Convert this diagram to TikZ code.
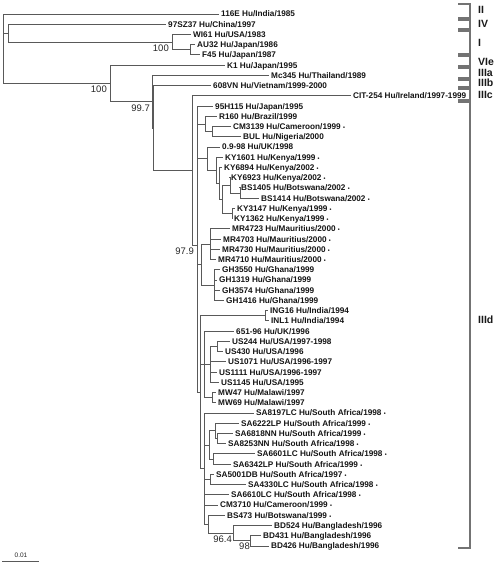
\documentclass[tikz,border=0pt]{standalone}
\usepackage{fontspec}
\setmainfont{Liberation Sans}
\usetikzlibrary{positioning}
\newcommand\dotmark{\ {\fontsize{5.5}{6}\selectfont •}}
\tikzset{
  br/.style={draw=black!65,line width=0.85pt},
  tip/.style={anchor=west,inner xsep=2pt,inner ysep=0pt,text height=5.9pt,text depth=0pt,
    font=\fontsize{8.2}{9}\selectfont\bfseries,text=black!92},
  boot/.style={inner sep=0pt,font=\fontsize{9.5}{10}\selectfont,text=black!85},
  grp/.style={draw=black!55,line width=1.1pt},
  grplab/.style={anchor=west,inner sep=0pt,font=\fontsize{10.5}{11}\selectfont\bfseries,text=black!90}
}
\begin{document}
\begin{tikzpicture}[x=1pt,y=-1pt]
\useasboundingbox (0,0) rectangle (500,562);
% tips, one row every 10.23
\foreach \px/\lab [count=\i from 0] in {
  219/{116E Hu/India/1985}, 166/{97SZ37 Hu/China/1997}, 191/{WI61 Hu/USA/1983},
  195/{AU32 Hu/Japan/1986}, 200/{F45 Hu/Japan/1987}, 225/{K1 Hu/Japan/1995},
  269/{Mc345 Hu/Thailand/1989}, 211/{608VN Hu/Vietnam/1999-2000},
  351/{CIT-254 Hu/Ireland/1997-1999}, 213/{95H115 Hu/Japan/1995},
  217/{R160 Hu/Brazil/1999}, 231/{CM3139 Hu/Cameroon/1999\dotmark},
  241/{BUL Hu/Nigeria/2000}, 220/{0.9-98 Hu/UK/1998},
  223/{KY1601 Hu/Kenya/1999\dotmark}, 222/{KY6894 Hu/Kenya/2002\dotmark},
  229/{KY6923 Hu/Kenya/2002\dotmark}, 239/{BS1405 Hu/Botswana/2002\dotmark},
  259/{BS1414 Hu/Botswana/2002\dotmark}, 235/{KY3147 Hu/Kenya/1999\dotmark},
  232/{KY1362 Hu/Kenya/1999\dotmark}, 230/{MR4723 Hu/Mauritius/2000\dotmark},
  221/{MR4703 Hu/Mauritius/2000\dotmark}, 220/{MR4730 Hu/Mauritius/2000\dotmark},
  216/{MR4710 Hu/Mauritius/2000\dotmark}, 220/{GH3550 Hu/Ghana/1999},
  217/{GH1319 Hu/Ghana/1999}, 220/{GH3574 Hu/Ghana/1999}, 224/{GH1416 Hu/Ghana/1999},
  268/{ING16 Hu/India/1994}, 269/{INL1 Hu/India/1994}, 234/{651-96 Hu/UK/1996},
  230/{US244 Hu/USA/1997-1998}, 223/{US430 Hu/USA/1996},
  226/{US1071 Hu/USA/1996-1997}, 217/{US1111 Hu/USA/1996-1997},
  219/{US1145 Hu/USA/1995}, 216/{MW47 Hu/Malawi/1997}, 216/{MW69 Hu/Malawi/1997},
  254/{SA8197LC Hu/South Africa/1998\dotmark}, 239/{SA6222LP Hu/South Africa/1999\dotmark},
  233/{SA6818NN Hu/South Africa/1999\dotmark}, 226/{SA8253NN Hu/South Africa/1998\dotmark},
  255/{SA6601LC Hu/South Africa/1998\dotmark}, 231/{SA6342LP Hu/South Africa/1999\dotmark},
  214/{SA5001DB Hu/South Africa/1997\dotmark}, 246/{SA4330LC Hu/South Africa/1998\dotmark},
  229/{SA6610LC Hu/South Africa/1998\dotmark}, 218/{CM3710 Hu/Cameroon/1999\dotmark},
  225/{BS473 Hu/Botswana/1999\dotmark}, 272/{BD524 Hu/Bangladesh/1996},
  261/{BD431 Hu/Bangladesh/1996}, 269/{BD426 Hu/Bangladesh/1996}}
  \node[tip] (t\i) at (\px,{14+10.23*\i}) {\lab};
% inner nodes
\coordinate (r0) at (3,14);
\coordinate (n2) at (8,33.18);
\coordinate (nW) at (172,42.13);
\coordinate (nAU) at (190,49.8);
\coordinate (nK) at (110,83.4);
\coordinate (n152) at (152,101.7);
\coordinate (n153) at (153,128);
\coordinate (nA) at (192,170.42);
\coordinate (n0) at (197,245);
\coordinate (nBR) at (205,123.98);
\coordinate (nCB) at (212,131.65);
\coordinate (nKE) at (207,158.66);
\coordinate (nKY) at (216,170.33);
\coordinate (nKY2) at (219,183.44);
\coordinate (nKY3) at (222,199.42);
\coordinate (nBS) at (230,185.35);
\coordinate (nBS2) at (240,193.03);
\coordinate (nKY4) at (232,213.49);
\coordinate (nMG) at (201,264.64);
\coordinate (nMR) at (210,244.18);
\coordinate (nGH) at (214,285.1);
\coordinate (nLO) at (200,392.2);
\coordinate (nIN) at (265,315.79);
\coordinate (nUSx) at (204,364.38);
\coordinate (nUS) at (210,364.38);
\coordinate (nUS2) at (217,346.48);
\coordinate (nMW) at (212,397.63);
\coordinate (nSAx) at (204,468.6);
\coordinate (nSA1) at (209,444.95);
\coordinate (nSA2) at (215,430.9);
\coordinate (nSA3) at (217,438.55);
\coordinate (nSA4) at (213,459.0);
\coordinate (nSA5) at (210,479.47);
\coordinate (nBSB) at (208,524.2);
\coordinate (nBD) at (233,533.18);
\coordinate (nBD2) at (250,540.85);
% branches
\draw[br] (r0) |- (t0.west) (r0) |- (n2) (r0) |- (nK);
\draw[br] (n2) |- (t1.west) (n2) |- (nW);
\draw[br] (nW) |- (t2.west) (nW) |- (nAU);
\draw[br] (nAU) |- (t3.west) (nAU) |- (t4.west);
\draw[br] (nK) |- (t5.west) (nK) |- (n152);
\draw[br] (n152) |- (t6.west) (n152) |- (n153);
\draw[br] (n153) |- (t7.west) (n153) |- (nA);
\draw[br] (nA) |- (t8.west) (nA) |- (n0);
\draw[br] (n0) |- (t9.west) (n0) |- (nBR) (n0) |- (nKE) (n0) |- (nMG) (n0) |- (nLO);
\draw[br] (nBR) |- (t10.west) (nBR) |- (nCB) (nCB) |- (t11.west) (nCB) |- (t12.west);
\draw[br] (nKE) |- (t13.west) (nKE) |- (nKY) (nKY) |- (t14.west) (nKY) |- (nKY2)
  (nKY2) |- (t15.west) (nKY2) |- (nKY3) (nKY3) |- (nBS) (nKY3) |- (nKY4);
\draw[br] (nBS) |- (t16.west) (nBS) |- (nBS2) (nBS2) |- (t17.west) (nBS2) |- (t18.west)
  (nKY4) |- (t19.west) (nKY4) |- (t20.west);
\draw[br] (nMG) |- (nMR) (nMG) |- (nGH);
\foreach \k in {21,...,24} \draw[br] (nMR) |- (t\k.west);
\foreach \k in {25,...,28} \draw[br] (nGH) |- (t\k.west);
\draw[br] (nLO) |- (nIN) (nLO) |- (nUSx) (nLO) |- (nSAx) (nIN) |- (t29.west) (nIN) |- (t30.west);
\draw[br] (nUSx) |- (t31.west) (nUSx) |- (nUS) (nUSx) |- (nMW) (nUS) |- (nUS2)
  (nUS2) |- (t32.west) (nUS2) |- (t33.west);
\foreach \k in {34,35,36} \draw[br] (nUS) |- (t\k.west);
\draw[br] (nMW) |- (t37.west) (nMW) |- (t38.west);
\draw[br] (nSAx) |- (t39.west) (nSAx) |- (nSA1) (nSAx) |- (nSA5) (nSAx) |- (t47.west)
  (nSAx) |- (t48.west) (nSAx) |- (nBSB);
\draw[br] (nSA1) |- (nSA2) (nSA1) |- (nSA4) (nSA2) |- (t40.west) (nSA2) |- (nSA3)
  (nSA3) |- (t41.west) (nSA3) |- (t42.west) (nSA4) |- (t43.west) (nSA4) |- (t44.west);
\draw[br] (nSA5) |- (t45.west) (nSA5) |- (t46.west);
\draw[br] (nBSB) |- (t49.west) (nBSB) |- (nBD) (nBD) |- (t50.west) (nBD) |- (nBD2)
  (nBD2) |- (t51.west) (nBD2) |- (t52.west);
% bootstrap values
\node[boot,below left=2.5pt and 3pt of nW] (b1) {100};
\node[boot,below left=2.5pt and 3pt of nK] (b2) {100};
\node[boot,below left=2.5pt and 2pt of n152] (b3) {99.7};
\node[boot,below left=2.5pt and 3pt of n0] (b4) {97.9};
\node[boot,below left=2pt and 1pt of nBD] (b5) {96.4};
\node[boot,below left=1.5pt and 0pt of nBD2] (b6) {98};
% genotype brackets
\foreach \ya/\yb/\yl/\g in {4/18/10/II, 20/29/24/IV, 31/54/43/I, 56/66/62/VIe,
  68/78/73/IIIa, 80/87/83/IIIb, 89/100/95/IIIc, 102/548/320/IIId}{
  \draw[grp] (458,\ya) -| (470,\yb) -- (458,\yb);
  \node[grplab] (g\g) at (478,\yl) {\g};}
% scale bar
\coordinate (sa) at (2,561);
\coordinate (sb) at (39,561);
\draw[br,line width=0.6pt] (sa) -- (sb);
\node[boot,font=\fontsize{6.5}{7}\selectfont] (scl) at (21,555.5) {0.01};
\end{tikzpicture}
\end{document}
